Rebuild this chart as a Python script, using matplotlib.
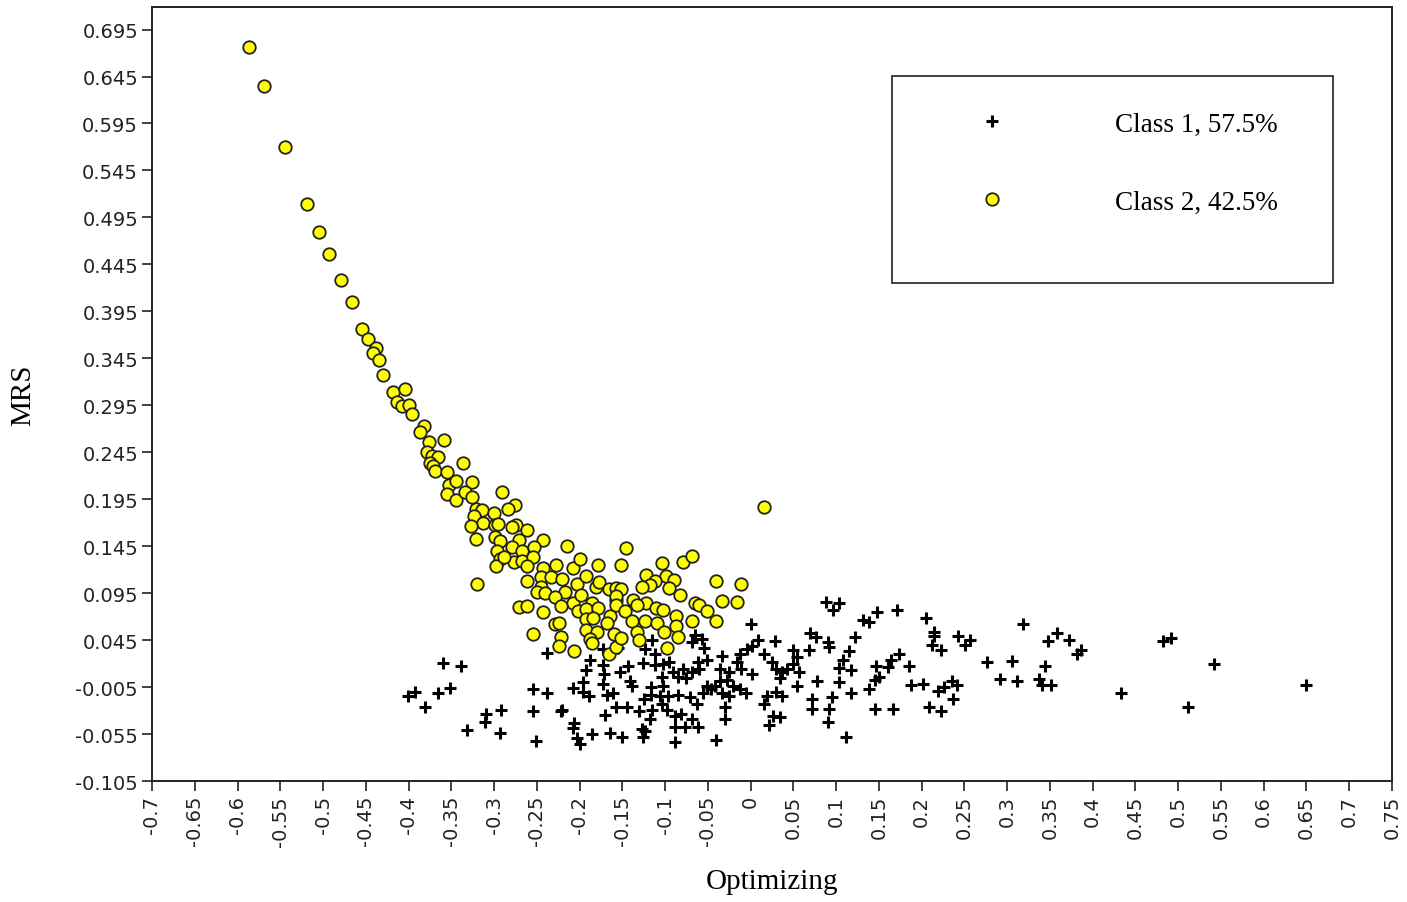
import numpy as np
import matplotlib
matplotlib.use("Agg")
from matplotlib import pyplot as plt
from matplotlib.patches import Rectangle

# Class 1 (crosses): optimizing score vs MRS
class1_x = [
    -0.360, -0.339, -0.238, -0.393, -0.401, -0.381, -0.365, -0.352, -0.254, -0.238,
    -0.208, -0.196, -0.189, -0.196, -0.192, -0.188, -0.173, -0.171, -0.153, -0.143,
    -0.141, -0.139, -0.173, -0.168, -0.161, -0.173, -0.155, -0.126, -0.124, -0.220,
    -0.222, -0.255, -0.292, -0.309, -0.311, -0.332, -0.293, -0.251, -0.206, -0.208,
    -0.203, -0.200, -0.186, -0.170, -0.157, -0.145, -0.164, -0.150, -0.127, -0.131,
    -0.125,
    0.001, 0.009, 0.002, -0.004, 0.028, -0.115, -0.065, -0.057, -0.068, -0.054,
    0.049, 0.054, 0.049, 0.057, 0.054, 0.016, 0.025, 0.030, 0.037, 0.042,
    0.034, 0.002, -0.013, -0.016, -0.011, -0.034, -0.051, -0.062, -0.060, -0.068,
    -0.079, -0.075, -0.085, -0.091, -0.095, -0.103, -0.112, -0.112, -0.104, -0.103,
    -0.116, -0.116, -0.106, -0.097, -0.085, -0.071, -0.063, -0.104, -0.098, -0.115,
    -0.089, -0.081, -0.068, -0.062, -0.077, -0.089, -0.118, -0.124, -0.126, -0.089,
    -0.040, -0.030, -0.030, -0.051, -0.042, -0.036, -0.028, -0.021, -0.013, -0.005,
    -0.025, -0.036, -0.046, -0.056, -0.033, -0.025, 0.019, 0.030, 0.037, 0.016,
    0.026, 0.034, 0.022,
    0.088, 0.103, 0.096, 0.131, 0.139, 0.148, 0.171, 0.205, 0.214, 0.214,
    0.212, 0.223, 0.242, 0.257, 0.251, 0.276, 0.306, 0.319, 0.358, 0.348,
    0.372, 0.386, 0.382, 0.344, 0.292, 0.312, 0.337, 0.341, 0.351, 0.433,
    0.482, 0.491, 0.542, 0.512, 0.649, 0.185, 0.187, 0.201, 0.219, 0.226,
    0.235, 0.241, 0.237, 0.209, 0.223, 0.145, 0.166, 0.112, 0.090, 0.072,
    0.092, 0.072, 0.095, 0.078, 0.103, 0.117, 0.138, 0.145, 0.150, 0.147,
    0.161, 0.164, 0.173, 0.108, 0.103, 0.117, 0.115, 0.122, 0.090, 0.092,
    0.069, 0.076, 0.068,
]
class1_y = [
    0.021, 0.017, 0.031, -0.010, -0.015, -0.026, -0.011, -0.006, -0.007, -0.011,
    -0.006, -0.010, -0.015, 0.000, 0.013, 0.024, 0.019, 0.009, 0.011, 0.017,
    0.001, -0.004, -0.002, -0.013, -0.011, 0.036, 0.037, 0.021, 0.035, -0.029,
    -0.031, -0.031, -0.029, -0.034, -0.042, -0.051, -0.054, -0.062, -0.043, -0.049,
    -0.059, -0.066, -0.055, -0.035, -0.026, -0.026, -0.054, -0.058, -0.050, -0.030,
    -0.018,
    0.062, 0.045, 0.039, 0.036, 0.044, 0.045, 0.050, 0.046, 0.043, 0.037,
    0.034, 0.027, 0.020, 0.011, -0.004, 0.030, 0.022, 0.014, 0.011, 0.014,
    0.005, 0.009, 0.030, 0.022, 0.014, 0.028, 0.024, 0.022, 0.014, 0.011,
    0.014, 0.005, 0.006, 0.011, 0.022, 0.020, 0.030, 0.019, 0.006, -0.004,
    -0.005, -0.013, -0.015, -0.014, -0.013, -0.016, -0.023, -0.023, -0.029, -0.029,
    -0.036, -0.034, -0.039, -0.047, -0.047, -0.047, -0.039, -0.052, -0.058, -0.063,
    -0.061, -0.039, -0.026, -0.004, -0.004, 0.001, 0.003, -0.004, -0.007, -0.011,
    0.011, 0.014, -0.007, -0.011, -0.011, -0.015, -0.015, -0.010, -0.015, -0.023,
    -0.036, -0.037, -0.045,
    0.086, 0.085, 0.077, 0.066, 0.064, 0.075, 0.077, 0.069, 0.054, 0.049,
    0.040, 0.034, 0.049, 0.045, 0.040, 0.022, 0.023, 0.062, 0.053, 0.044,
    0.045, 0.034, 0.030, 0.017, 0.004, 0.001, 0.004, -0.003, -0.003, -0.011,
    0.044, 0.047, 0.020, -0.026, -0.003, 0.017, -0.003, -0.002, -0.009, -0.005,
    0.001, -0.003, -0.018, -0.026, -0.030, -0.028, -0.028, -0.058, -0.042, -0.028,
    -0.028, -0.018, -0.016, 0.001, 0.000, -0.011, -0.007, 0.003, 0.006, 0.017,
    0.016, 0.024, 0.030, 0.024, 0.015, 0.013, 0.033, 0.048, 0.043, 0.038,
    0.053, 0.048, 0.034,
]

# Class 2 (circles)
class2_x = [
    -0.586, -0.569, -0.544, -0.519, -0.505, -0.493, -0.479, -0.466, -0.455, -0.448,
    -0.438, -0.442, -0.434, -0.430, -0.418, -0.404, -0.413, -0.408, -0.400, -0.396,
    -0.382, -0.387, -0.376, -0.358, -0.378, -0.373, -0.366, -0.375, -0.371, -0.369,
    -0.355, -0.336, -0.353, -0.344, -0.326, -0.355, -0.344, -0.334, -0.326, -0.321,
    -0.314, -0.300, -0.291, -0.324,
    -0.276, -0.284, -0.313, -0.327, -0.299, -0.295, -0.274, -0.279, -0.262, -0.299,
    -0.293, -0.321, -0.271, -0.243, -0.279, -0.267, -0.253, -0.297, -0.215, -0.293,
    -0.277, -0.267, -0.255, -0.298, -0.288, -0.262, -0.243, -0.228, -0.208, -0.200,
    -0.178, -0.320, -0.261, -0.245, -0.233, -0.220, -0.245, -0.250, -0.240, -0.217,
    -0.203, -0.192, -0.181, -0.177, -0.166, -0.157, -0.229, -0.208, -0.198, -0.186,
    -0.222, -0.271, -0.262, -0.243, -0.202, -0.192, -0.178, -0.164, -0.192, -0.184,
    -0.168, -0.229, -0.224, -0.192, -0.180, -0.160, -0.254, -0.222, -0.224, -0.188,
    -0.186, -0.206, -0.166, -0.158, -0.158,
    0.016, -0.146, -0.151, -0.104, -0.079, -0.068, -0.122, -0.099, -0.090, -0.112,
    -0.118, -0.127, -0.096, -0.041, -0.011, -0.151, -0.158, -0.082, -0.138, -0.122,
    -0.133, -0.065, -0.060, -0.033, -0.016, -0.158, -0.111, -0.103, -0.051, -0.147,
    -0.139, -0.087, -0.124, -0.110, -0.087, -0.068, -0.040, -0.133, -0.101, -0.151,
    -0.131, -0.085, -0.098,
]
class2_y = [
    0.676, 0.635, 0.570, 0.509, 0.479, 0.456, 0.428, 0.405, 0.376, 0.366,
    0.356, 0.351, 0.343, 0.327, 0.309, 0.312, 0.298, 0.294, 0.295, 0.286,
    0.273, 0.267, 0.256, 0.258, 0.245, 0.241, 0.240, 0.234, 0.230, 0.225,
    0.224, 0.234, 0.210, 0.214, 0.213, 0.201, 0.194, 0.203, 0.197, 0.185,
    0.184, 0.180, 0.203, 0.177,
    0.189, 0.185, 0.170, 0.167, 0.168, 0.169, 0.168, 0.165, 0.162, 0.155,
    0.150, 0.153, 0.152, 0.152, 0.144, 0.140, 0.144, 0.140, 0.145, 0.131,
    0.128, 0.129, 0.134, 0.124, 0.133, 0.124, 0.122, 0.125, 0.122, 0.131,
    0.125, 0.105, 0.108, 0.112, 0.112, 0.110, 0.102, 0.096, 0.095, 0.096,
    0.105, 0.113, 0.102, 0.107, 0.099, 0.101, 0.091, 0.085, 0.093, 0.085,
    0.081, 0.080, 0.081, 0.075, 0.076, 0.078, 0.079, 0.071, 0.067, 0.069,
    0.063, 0.062, 0.063, 0.056, 0.054, 0.051, 0.051, 0.048, 0.039, 0.046,
    0.042, 0.033, 0.030, 0.038, 0.088,
    0.187, 0.143, 0.125, 0.127, 0.128, 0.135, 0.114, 0.113, 0.109, 0.108,
    0.104, 0.102, 0.101, 0.108, 0.105, 0.099, 0.092, 0.093, 0.088, 0.084,
    0.082, 0.085, 0.082, 0.087, 0.086, 0.082, 0.079, 0.077, 0.076, 0.076,
    0.065, 0.071, 0.065, 0.063, 0.060, 0.065, 0.065, 0.054, 0.054, 0.047,
    0.045, 0.048, 0.037,
]

legend_labels = ["Class 1, 57.5%", "Class 2, 42.5%"]
y_ticks = np.round(np.arange(-0.105, 0.70, 0.05), 3)
x_ticks = np.round(np.arange(-0.70, 0.751, 0.05), 2)

plt.rcParams["axes.unicode_minus"] = False

fig = plt.figure(figsize=(14.07, 9.03), dpi=100)
ax = fig.add_axes([152 / 1407, 1 - 782 / 903, (1392 - 152) / 1407, (782 - 8) / 903])

c1, = ax.plot(class1_x, class1_y, linestyle="none", marker="+", color="black",
              markersize=9, markeredgewidth=2.2, label=legend_labels[0])
c2, = ax.plot(class2_x, class2_y, linestyle="none", marker="o", markerfacecolor="#ffff00",
              markeredgecolor="#222222", markeredgewidth=1.3, markersize=9,
              label=legend_labels[1])

ax.set_xlim(-0.70, 0.75)
ax.set_ylim(-0.105, 0.719)
ax.set_xticks(x_ticks)
ax.set_xticklabels([f"{v:g}" for v in x_ticks], rotation=90)
ax.set_yticks(y_ticks)
ax.set_yticklabels([f"{v:.3f}" for v in y_ticks])
ax.tick_params(direction="out", length=7, width=1.2, labelsize=14,
               labelcolor="#222222", color="#222222", pad=3)
for s in ax.spines.values():
    s.set_linewidth(1.4)
    s.set_color("#222222")

serif = "Liberation Serif"
ax.set_xlabel("Optimizing", family=serif, fontsize=21, labelpad=16)
ax.set_ylabel("MRS", family=serif, fontsize=21, labelpad=28)

# legend box drawn in figure pixels
box = Rectangle((892 / 1407, 1 - 284 / 903), (1333 - 892) / 1407, (284 - 77) / 903,
                transform=fig.transFigure, facecolor="white", edgecolor="#222222",
                linewidth=1.2, zorder=5)
fig.patches.append(box)
leg = fig.legend(handles=[c1, c2], loc="center left",
                 bbox_to_anchor=(951 / 1407, 1 - 164 / 903),
                 frameon=False, borderpad=0, handlelength=2.0, handletextpad=3.55,
                 labelspacing=1.95, prop={"family": serif, "size": 19.5})
leg.set_zorder(6)

fig.savefig("out.png", dpi=100, facecolor="white")
